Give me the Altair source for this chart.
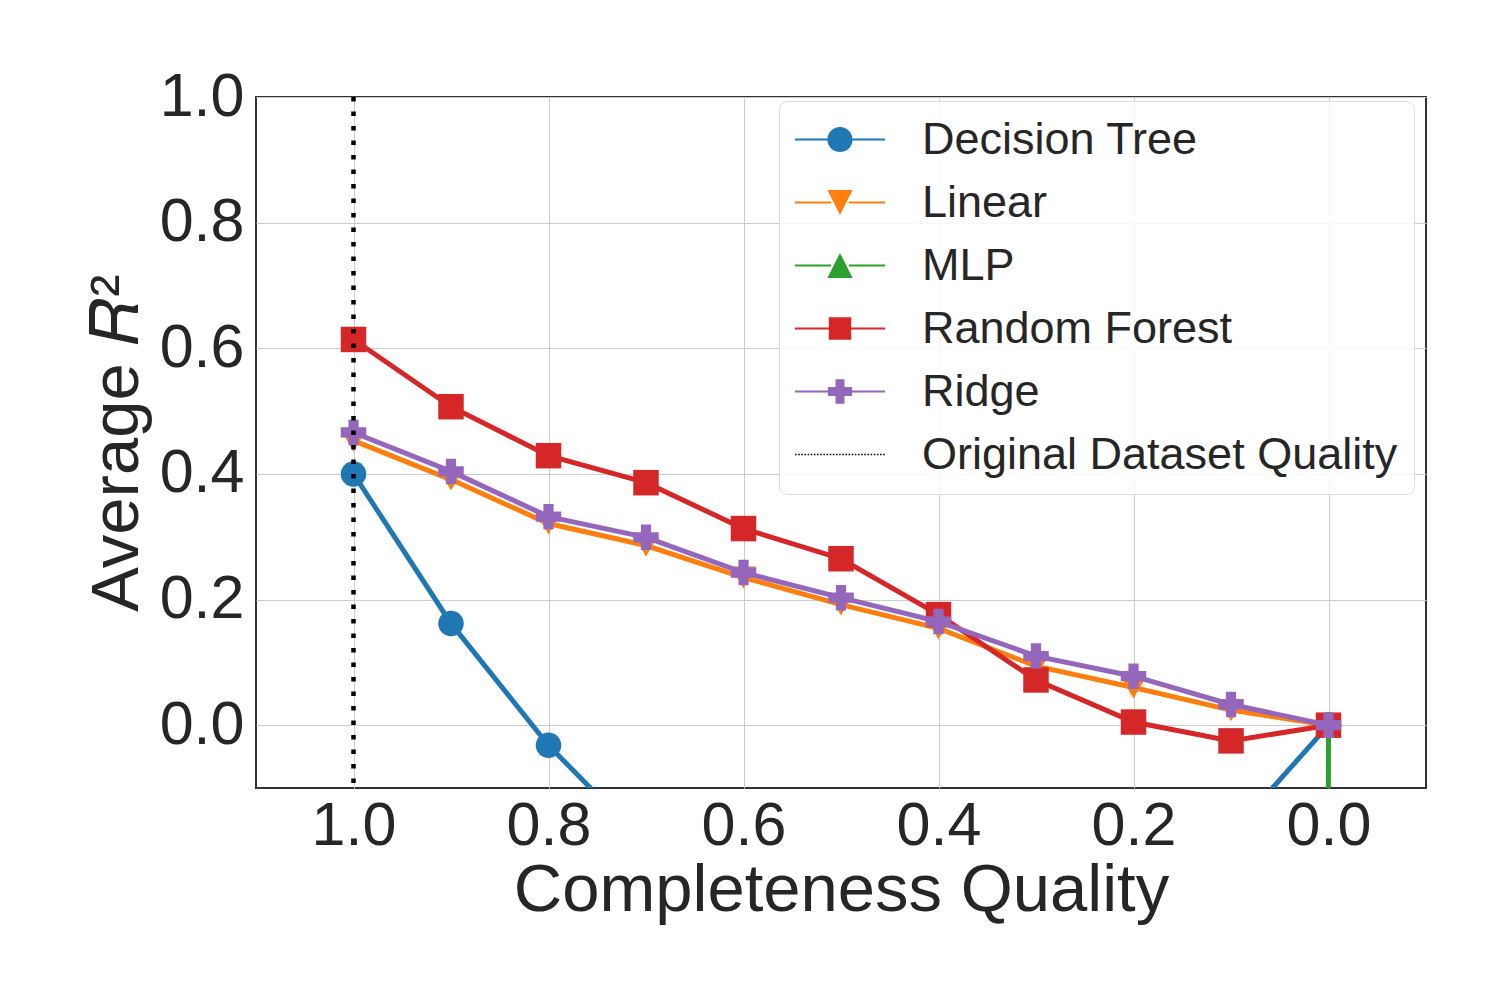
import altair as alt
import pandas as pd

# ---- data ----
quality = [1.0, 0.9, 0.8, 0.7, 0.6, 0.5, 0.4, 0.3, 0.2, 0.1, 0.0]
models = ["Decision Tree", "Linear", "MLP", "Random Forest", "Ridge"]
decision_tree = [0.400, 0.162, -0.032, -0.19, -0.28, -0.33, -0.36, -0.35, -0.30, -0.174, 0.0]
linear = [0.453, 0.391, 0.321, 0.286, 0.235, 0.192, 0.154, 0.094, 0.060, 0.024, 0.0]
mlp = [-42.0, -45.0, -47.0, -50.0, -52.0, -55.0, -57.0, -60.0, -62.0, -64.0, 0.0]
random_forest = [0.614, 0.507, 0.429, 0.386, 0.313, 0.265, 0.176, 0.072, 0.005, -0.025, 0.0]
ridge = [0.466, 0.404, 0.332, 0.299, 0.243, 0.203, 0.165, 0.110, 0.078, 0.033, 0.0]
original_quality = [1.0]
ref_label = "Original Dataset Quality"

series_values = [decision_tree, linear, mlp, random_forest, ridge]
colors = ["#1f77b4", "#ff7f0e", "#2ca02c", "#d62728", "#9467bd"]
shapes = ["circle", "triangle-down", "triangle-up", "square", "cross"]

rows = []
for m, vals in zip(models, series_values):
    for q, v in zip(quality, vals):
        rows.append({"model": m, "quality": q, "r2": v})
df = pd.DataFrame(rows)
ref_df = pd.DataFrame({"quality": original_quality, "model": [ref_label]})

legend_domain = models + [ref_label]
legend_colors = colors + ["#000000"]

# ---- legend symbols (line + marker); symbol box = 1 unit square of 45px,
# drawn from x=-1 to x=3 with the marker at x=1 ----
r = 0.56
h = 0.045
def with_line(marker, gap):
    return (f"M-1,-{h}H{1 - gap}V{h}H-1Z M{1 + gap},-{h}H3V{h}H{1 + gap}Z " + marker)

circle_p = with_line(f"M{1 - r},0A{r},{r} 0 1,0 {1 + r},0A{r},{r} 0 1,0 {1 - r},0Z", r)
tri_down_p = with_line(f"M{1 - r},-{r}L{1 + r},-{r}L1,{r}Z", 0.4)
tri_up_p = with_line(f"M{1 - r},{r}L{1 + r},{r}L1,-{r}Z", 0.4)
s = 0.5
square_p = with_line(f"M{1 - s},-{s}H{1 + s}V{s}H{1 - s}Z", s)
a, w = 0.54, 0.2
plus_p = with_line(
    f"M{1 - a},-{w}H{1 - w}V-{a}H{1 + w}V-{w}H{1 + a}V{w}H{1 + w}V{a}H{1 - w}V{w}H{1 - a}Z", w)
dots = " ".join(
    f"M{-1 + i * 0.14:.3f},-0.03h0.07v0.06h-0.07Z" for i in range(29))
legend_paths = [circle_p, tri_down_p, tri_up_p, square_p, plus_p, dots]

font = "Liberation Sans"
text_color = "#262626"

x_enc = alt.X("quality:Q",
              scale=alt.Scale(domain=[-0.1, 1.1], reverse=True, nice=False, zero=False),
              axis=alt.Axis(title="Completeness Quality",
                            values=[0.0, 0.2, 0.4, 0.6, 0.8, 1.0], format=".1f"))
y_enc = alt.Y("r2:Q",
              scale=alt.Scale(domain=[-0.1, 1.0], nice=False, zero=False),
              axis=alt.Axis(title="Average 𝑅²",
                            values=[0.0, 0.2, 0.4, 0.6, 0.8, 1.0], format=".1f"))

color_scale = alt.Scale(domain=legend_domain, range=legend_colors)
shape_scale = alt.Scale(domain=models, range=shapes)

layers = []
for m in models:
    base = alt.Chart(df).transform_filter(alt.datum.model == m)
    line = base.mark_line(strokeWidth=5, clip=True).encode(
        x=x_enc, y=y_enc,
        color=alt.Color("model:N", scale=color_scale, legend=None),
    )
    pts = base.mark_point(filled=True, size=650, opacity=1, clip=True).encode(
        x=x_enc, y=y_enc,
        color=alt.Color("model:N", scale=color_scale, legend=None),
        shape=alt.Shape("model:N", scale=shape_scale, legend=None),
    )
    layers += [line, pts]

ref_rule = alt.Chart(ref_df).mark_rule(
    color="black", strokeWidth=4.5, strokeDash=[4.5, 10]
).encode(x=alt.X("quality:Q"))
layers.append(ref_rule)

legend_props = dict(
    title=None, orient="none", legendX=523, legendY=4,
    symbolSize=2025, symbolStrokeWidth=0, symbolOpacity=1,
    labelFont=font, labelFontSize=45, labelColor=text_color,
    labelOffset=82, rowPadding=17, padding=16,
    strokeColor="#dddddd", fillColor="rgba(255,255,255,0.85)",
    cornerRadius=8, labelLimit=1000,
)
legend_layer = alt.Chart(df).transform_filter("false").mark_point(
    filled=True, opacity=1
).encode(
    x=x_enc, y=y_enc,
    color=alt.Color("model:N",
                    scale=alt.Scale(domain=legend_domain, range=legend_colors),
                    legend=alt.Legend(**legend_props)),
    shape=alt.Shape("model:N",
                    scale=alt.Scale(domain=legend_domain, range=legend_paths),
                    legend=alt.Legend(**legend_props)),
)
layers.append(legend_layer)

chart = alt.layer(*layers).resolve_scale(
    color="independent", shape="independent"
).properties(
    width=1170, height=691,
    autosize=alt.AutoSizeParams(type="none"),
    padding={"left": 248, "top": 89, "right": 66, "bottom": 180},
).configure_view(
    stroke="#333333", strokeWidth=2
).configure_axis(
    labelFont=font, titleFont=font,
    labelFontSize=61, titleFontSize=67,
    labelColor=text_color, titleColor=text_color,
    titleFontWeight="normal",
    grid=True, gridColor="#cccccc", gridWidth=1,
    domain=False, ticks=False, tickSize=0,
).configure_axisX(
    labelPadding=8, titlePadding=1,
).configure_axisY(
    labelPadding=12, titlePadding=8,
)

chart.save("out.html", embed_options={"renderer": "svg", "actions": False})
